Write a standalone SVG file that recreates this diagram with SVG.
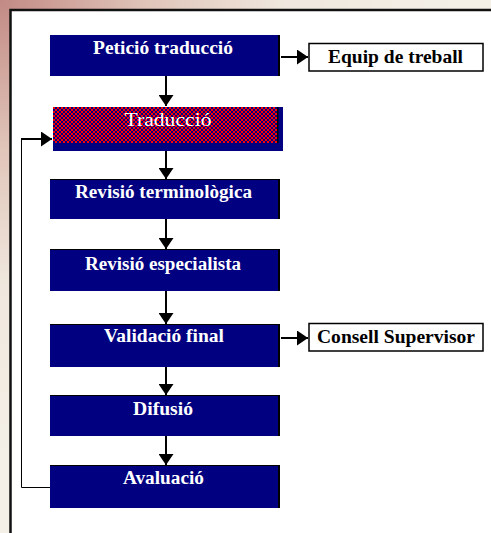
<svg xmlns="http://www.w3.org/2000/svg" width="491" height="533" viewBox="0 0 491 533">
<defs>
  <radialGradient id="bg" gradientUnits="userSpaceOnUse" cx="0" cy="0" r="480">
    <stop offset="0" stop-color="#c28a84"/>
    <stop offset="0.3" stop-color="#e0c4b8"/>
    <stop offset="0.6" stop-color="#f0e8de"/>
    <stop offset="1" stop-color="#f4f0e8"/>
  </radialGradient>
  <pattern id="checker" patternUnits="userSpaceOnUse" x="53" y="107" width="4" height="4">
    <rect width="4" height="4" fill="#000080"/>
    <rect width="2" height="2" fill="#ff0000"/>
    <rect x="2" y="2" width="2" height="2" fill="#ff0000"/>
  </pattern>
  <marker id="ah" viewBox="0 0 11 15" refX="11" refY="7.5" markerWidth="5.5" markerHeight="7.5" markerUnits="strokeWidth" orient="auto">
    <path d="M0,0 L11,7.5 L0,15 Z" fill="#000"/>
  </marker>
  <style>
    .box { fill: #000080; }
    .edge { fill: #000; }
    .lbl { font-family: "Liberation Serif", "Times New Roman", serif; font-weight: bold; font-size: 18px; fill: #fff; text-anchor: middle; }
    .side { fill: #fff; stroke: #000; stroke-width: 1.5; }
    .slbl { font-family: "Liberation Serif", "Times New Roman", serif; font-weight: bold; font-size: 19px; fill: #000; text-anchor: middle; }
    .conn { stroke: #000; stroke-width: 2; fill: none; }
    .thin { stroke: #000; stroke-width: 1; fill: none; }
  </style>
</defs>
<rect width="491" height="533" fill="url(#bg)"/>
<rect x="10.5" y="10" width="490" height="540" fill="#fff" stroke="#111" stroke-width="2.5"/>

<g id="connectors">
  <line class="conn" x1="166" y1="76" x2="166" y2="106" marker-end="url(#ah)"/>
  <line class="conn" x1="166" y1="151" x2="166" y2="179" marker-end="url(#ah)"/>
  <line class="conn" x1="166" y1="219" x2="166" y2="249" marker-end="url(#ah)"/>
  <line class="conn" x1="166" y1="291" x2="166" y2="324" marker-end="url(#ah)"/>
  <line class="conn" x1="166" y1="367" x2="166" y2="395" marker-end="url(#ah)"/>
  <line class="conn" x1="166" y1="436" x2="166" y2="465" marker-end="url(#ah)"/>
  <line class="conn" x1="281" y1="57" x2="308" y2="57" marker-end="url(#ah)"/>
  <line class="conn" x1="281" y1="338" x2="308" y2="338" marker-end="url(#ah)"/>
  <polyline class="thin" points="50,487.5 21.5,487.5 21.5,139"/>
  <line class="conn" x1="21" y1="139" x2="52" y2="139" marker-end="url(#ah)"/>
</g>

<g id="peticio">
  <rect class="box" x="50" y="35" width="230" height="41"/>
  <rect class="edge" x="278" y="35" width="2" height="41"/>
  <text class="lbl" x="163" y="54" textLength="140" lengthAdjust="spacingAndGlyphs">Petició traducció</text>
</g>

<g id="traduccio">
  <rect class="box" x="53" y="107" width="230" height="44"/>
  <rect x="53" y="107" width="225" height="36" fill="url(#checker)"/>
  <rect class="edge" x="277" y="107" width="1.5" height="36"/>
  <text x="168" y="126" font-family="Liberation Serif, Times New Roman, serif" font-size="19" fill="#fff" text-anchor="middle" textLength="87" lengthAdjust="spacingAndGlyphs">Traducció</text>
</g>

<g id="revisio-terminologica">
  <rect class="box" x="50" y="179" width="230" height="40"/>
  <rect class="edge" x="50" y="179" width="230" height="1"/>
  <rect class="edge" x="278" y="179" width="2" height="40"/>
  <text class="lbl" x="163.5" y="198" textLength="177" lengthAdjust="spacingAndGlyphs">Revisió terminològica</text>
</g>

<g id="revisio-especialista">
  <rect class="box" x="50" y="249" width="230" height="42"/>
  <rect class="edge" x="50" y="249" width="230" height="1"/>
  <rect class="edge" x="278" y="249" width="2" height="42"/>
  <text class="lbl" x="163" y="270" textLength="156" lengthAdjust="spacingAndGlyphs">Revisió especialista</text>
</g>

<g id="validacio">
  <rect class="box" x="50" y="324" width="230" height="43"/>
  <rect class="edge" x="50" y="324" width="230" height="1"/>
  <rect class="edge" x="278" y="324" width="2" height="43"/>
  <text class="lbl" x="164" y="342" textLength="120" lengthAdjust="spacingAndGlyphs">Validació final</text>
</g>

<g id="difusio">
  <rect class="box" x="50" y="395" width="230" height="41"/>
  <rect class="edge" x="50" y="395" width="230" height="1"/>
  <rect class="edge" x="278" y="395" width="2" height="41"/>
  <text class="lbl" x="163" y="415" textLength="60" lengthAdjust="spacingAndGlyphs">Difusió</text>
</g>

<g id="avaluacio">
  <rect class="box" x="50" y="465" width="230" height="43"/>
  <rect class="edge" x="50" y="465" width="230" height="1"/>
  <rect class="edge" x="278" y="465" width="2" height="43"/>
  <text class="lbl" x="163.5" y="484" textLength="81" lengthAdjust="spacingAndGlyphs">Avaluació</text>
</g>

<g id="equip">
  <rect class="side" x="309" y="43.5" width="174" height="27.5"/>
  <text class="slbl" x="395.5" y="63" textLength="135" lengthAdjust="spacingAndGlyphs">Equip de treball</text>
</g>

<g id="consell">
  <rect class="side" x="309" y="323.5" width="174" height="27.5"/>
  <text class="slbl" x="396" y="343" textLength="158" lengthAdjust="spacingAndGlyphs">Consell Supervisor</text>
</g>
</svg>
